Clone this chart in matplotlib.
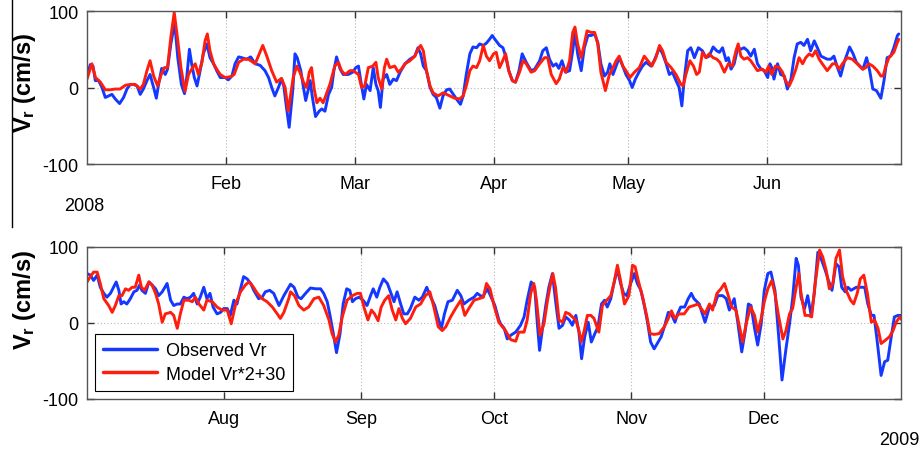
import numpy as np
import matplotlib
matplotlib.use('Agg')
import matplotlib.pyplot as plt
import matplotlib.dates as mdates
from matplotlib.lines import Line2D
import datetime as dt

plt.rcParams['font.family'] = ['Liberation Sans', 'DejaVu Sans']
plt.rcParams['mathtext.fontset'] = 'custom'
plt.rcParams['mathtext.rm'] = 'Liberation Sans'
plt.rcParams['mathtext.bf'] = 'Liberation Sans:bold'
plt.rcParams['axes.unicode_minus'] = False

# ---- data: (day offset from panel start, Vr cm/s) ----
top_start = dt.datetime(2008, 1, 1)
top_end = dt.datetime(2008, 7, 1)
bot_start = dt.datetime(2008, 7, 1)
bot_end = dt.datetime(2009, 1, 1)

top_obs = [(0.0,15),(0.74,30),(1.34,28),(1.86,9),(2.6,9),(3.35,0),(4.09,-13),(4.84,-11),(5.58,-9),(6.32,-15),
 (7.29,-21),(8.18,-13),(8.93,-2),(9.67,4),(10.4,4),(11.2,2),(11.9,-9),(12.6,-2),(13.4,9),(14.1,17),(14.9,0),
 (15.5,-14),(16.0,4),(16.7,25),(17.5,17),(18.0,24),(18.75,57),(19.6,85),(20.3,39),(21.1,4),(21.8,-8),(22.3,13),
 (22.9,50),(23.4,31),(24.0,13),(24.6,2),(25.3,22),(26.0,44),(26.8,57),(27.5,39),(28.3,31),(29.0,22),(29.8,13),
 (30.9,13),(31.6,10),(32.4,15),(33.1,31),(33.9,40),(34.6,39),(35.7,37),(36.6,40),(37.6,31),(38.7,29),(39.8,22),
 (40.6,13),(41.3,0),(42.0,-11),(42.8,0),(43.5,11),(44.0,2),(44.6,-26),(45.2,-52),(46.0,-4),(46.5,44),(47.0,39),
 (47.8,22),(48.4,0),(48.9,-17),(49.5,-2),(49.9,9),(50.4,-13),(51.1,-38),(51.9,-31),(52.5,-28),(53.2,-31),
 (54.0,-9),(54.7,0),(55.2,22),(55.8,40),(56.6,24),(57.3,17),(58.4,17),(59.4,20),(60.1,26),(60.7,28),(61.2,9),
 (61.9,-15),(62.5,4),(63.3,-4),(64.0,26),(64.6,4),(65.1,-4),(65.6,-26),(66.2,11),(67.0,17),(67.7,4),(68.5,11),
 (69.2,9),(70.0,20),(71.1,31),(72.2,37),(73.3,41),(74.0,52),(74.6,44),(75.2,28),(75.9,22),(76.7,0),(77.4,-9),
 (78.1,-13),(78.9,-27),(79.6,-11),(80.4,-3),(81.1,-2),(81.9,-9),(82.6,-15),(83.5,-22),(84.1,-11),(84.8,17),
 (85.6,44),(86.3,53),(87.1,52),(87.8,57),(88.6,55),(89.3,58),(90.0,63),(90.6,68),(91.2,63),(92.25,55),(93.0,52),
 (93.6,41),(94.3,22),(95.1,9),(95.8,7),(96.6,22),(97.3,44),(98.2,33),(99.3,22),(100.1,24),(101.2,35),(101.9,48),
 (102.7,52),(103.4,37),(104.2,28),(104.9,31),(105.5,25),(106.2,35),(107.0,20),(107.9,22),(108.6,48),(109.1,72),
 (109.7,44),(110.5,22),(111.2,52),(112.0,68),(112.7,68),(113.5,70),(114.2,59),(114.9,31),(115.7,15),(116.4,20),
 (116.9,31),(117.6,17),(118.3,28),(119.0,39),(119.8,28),(120.5,17),(121.3,9),(121.9,0),(122.6,11),(123.4,20),
 (124.2,28),(125.0,33),(126.1,28),(126.8,35),(128.0,52),(128.7,44),(129.5,31),(130.2,17),(130.9,20),(131.7,9),
 (132.4,0),(133.0,-24),(133.5,9),(134.3,48),(135.0,52),(135.8,39),(136.7,52),(137.6,48),(138.4,39),(139.1,41),
 (140.0,53),(140.8,48),(141.4,46),(142.1,52),(142.9,35),(143.4,39),(144.0,24),(144.7,31),(145.5,52),(146.2,50),
 (146.9,52),(147.7,48),(148.4,41),(149.2,50),(149.9,31),(150.7,24),(151.4,22),(152.2,13),(152.7,31),(153.1,26),
 (153.6,11),(154.4,31),(155.1,17),(155.9,15),(156.6,-2),(157.4,11),(158.1,39),(158.8,57),(159.6,59),(160.3,55),
 (161.1,63),(161.8,48),(162.6,61),(163.3,52),(164.1,41),(164.8,39),(165.5,37),(166.3,37),(167.0,41),(167.8,26),
 (168.5,15),(169.3,33),(170.5,53),(171.3,44),(172.0,33),(172.8,28),(173.5,24),(174.3,39),(175.0,22),(175.7,-2),
 (176.5,-4),(177.5,-14),(178.2,9),(178.9,39),(179.7,41),(180.4,52),(181.2,68),(181.5,70)]

top_mod = [(0.0,11),(1.1,31),(1.9,13),(3.0,7),(4.1,-3),(5.2,-3),(6.3,-2),(7.4,-2),(8.6,3),(9.7,4),(10.8,4),
 (11.9,-2),(12.6,4),(13.4,22),(14.1,35),(14.9,15),(15.8,2),(16.6,17),(17.3,26),(18.0,26),(18.75,66),(19.5,98),
 (20.2,66),(21.0,26),(21.9,-5),(22.7,17),(23.4,24),(24.2,31),(24.9,17),(25.7,33),(26.4,61),(26.9,70),(27.5,48),
 (28.3,31),(29.0,24),(29.8,17),(30.9,13),(32.0,14),(32.9,17),(33.9,33),(35.0,37),(36.1,37),(37.6,31),(38.3,41),
 (39.3,55),(40.2,41),(41.3,22),(42.4,7),(43.5,12),(44.3,0),(45.0,-31),(46.1,13),(46.9,28),(47.6,20),(48.4,7),
 (49.1,0),(49.7,20),(50.2,26),(50.8,-2),(51.4,-20),(52.1,-14),(52.8,-20),(53.6,-7),(54.3,4),(55.4,28),(56.2,33),
 (56.9,22),(57.7,17),(58.8,22),(59.5,22),(60.7,17),(61.4,0),(62.1,2),(62.9,26),(63.9,28),(64.6,33),(65.1,13),
 (65.9,-2),(66.5,26),(67.0,37),(67.7,26),(68.8,28),(69.6,20),(70.3,24),(71.1,31),(72.2,35),(73.3,41),(74.0,50),
 (74.6,55),(75.2,48),(75.9,22),(76.7,2),(77.4,-7),(78.5,-11),(79.6,-7),(80.4,-9),(81.1,-11),(82.2,-14),(83.3,-15),
 (84.1,-11),(84.8,2),(85.6,22),(86.3,28),(87.1,26),(87.8,35),(88.6,55),(89.3,41),(90.0,35),(90.9,44),(91.5,46),
 (92.25,26),(92.8,33),(93.6,44),(94.3,22),(95.1,9),(95.8,7),(96.7,20),(97.5,35),(98.2,31),(99.3,20),(100.1,22),
 (101.2,31),(102.3,39),(103.0,39),(103.8,17),(104.9,5),(105.6,11),(106.4,26),(107.1,20),(107.9,35),(108.6,72),
 (109.1,79),(109.7,57),(110.5,39),(111.2,57),(111.8,74),(112.7,72),(113.5,72),(114.2,57),(114.9,20),(115.9,-4),
 (116.8,17),(117.6,26),(118.3,35),(119.0,41),(119.8,28),(120.5,22),(121.4,13),(122.4,20),(123.5,26),(124.6,41),
 (125.4,35),(126.3,28),(127.2,39),(128.0,55),(128.7,48),(129.5,33),(130.6,26),(131.7,17),(132.8,4),(133.3,2),
 (133.9,17),(134.8,35),(135.6,28),(136.3,17),(136.9,20),(137.6,46),(138.4,39),(139.1,44),(140.0,39),(140.8,37),
 (141.5,33),(142.5,20),(143.4,31),(144.3,28),(145.1,48),(145.6,57),(146.2,41),(146.9,37),(147.7,39),(148.4,35),
 (149.2,28),(149.9,22),(151.0,24),(151.8,20),(152.4,28),(153.1,17),(153.9,28),(154.8,26),(155.5,20),(156.2,9),
 (157.0,2),(157.7,11),(158.5,24),(159.2,39),(160.0,31),(160.7,39),(161.5,44),(162.2,41),(162.9,48),(163.7,37),
 (164.4,31),(165.5,22),(166.7,31),(167.4,31),(168.2,24),(168.9,31),(170.0,39),(171.1,37),(172.2,31),(173.4,24),
 (174.1,26),(174.8,31),(175.7,28),(176.7,22),(177.5,15),(178.0,15),(178.6,28),(179.3,39),(180.4,46),(181.2,59),
 (181.5,63)]

bot_obs = [(0.0,65),(0.75,63),(1.5,56),(2.3,63),(3.0,47),(3.8,39),(4.5,34),(5.3,39),(6.0,47),(6.6,54),(7.2,43),
 (7.7,25),(8.3,28),(9.0,25),(9.8,32),(10.6,41),(11.3,43),(11.9,50),(12.4,43),(13.2,39),(14.0,54),(14.7,50),
 (15.5,45),(16.2,36),(17.0,41),(18.1,52),(18.9,30),(19.6,23),(20.4,25),(21.1,25),(21.9,34),(22.6,32),(23.4,34),
 (24.1,39),(24.9,25),(25.6,34),(26.4,47),(27.1,32),(27.8,39),(28.5,21),(29.4,12),(30.2,14),(30.9,19),(31.7,19),
 (32.4,10),(33.2,30),(33.9,25),(34.7,45),(35.4,61),(36.2,58),(37.0,52),(37.7,43),(38.8,32),(39.6,34),(40.3,41),
 (41.3,43),(42.2,39),(43.4,23),(44.5,36),(46.0,51),(46.8,47),(47.7,34),(48.4,32),(49.4,39),(50.5,46),(51.7,45),
 (52.8,45),(53.5,39),(54.3,28),(55.0,8),(55.8,-18),(56.4,-39),(57.2,-14),(57.9,25),(58.7,45),(59.4,43),(60.0,28),
 (60.7,32),(61.5,34),(62.4,30),(63.3,23),(64.1,36),(64.7,45),(65.5,34),(66.2,47),(67.0,58),(67.9,52),(68.6,41),
 (69.4,28),(70.1,41),(70.9,25),(71.6,12),(72.4,12),(73.1,19),(74.1,34),(75.0,30),(75.8,34),(76.8,47),(77.7,34),
 (78.6,23),(79.3,8),(80.1,-7),(80.8,12),(81.6,28),(82.6,30),(83.7,43),(84.5,36),(85.2,25),(86.3,30),(87.5,34),
 (88.2,39),(89.4,34),(90.5,45),(91.2,36),(92.2,23),(93.1,4),(93.5,-1),(94.3,-7),(95.0,-21),(95.8,-16),(96.9,-12),
 (98.0,-3),(98.8,8),(99.5,30),(100.4,54),(101.2,47),(101.8,-1),(102.3,-36),(102.9,-10),(103.7,23),(104.4,47),
 (105.2,65),(105.9,30),(106.7,-7),(107.5,-3),(108.2,8),(109.0,4),(109.7,-3),(110.5,10),(111.2,-12),(111.8,-47),
 (112.5,-18),(113.3,1),(114.0,-25),(114.8,-14),(115.5,-5),(116.3,25),(117.0,30),(117.6,21),(118.4,32),(119.1,52),
 (119.9,71),(120.6,52),(121.3,39),(122.0,36),(122.9,52),(123.7,65),(124.4,52),(125.2,43),(125.9,25),(126.7,1),
 (127.4,-25),(128.2,-34),(128.9,-27),(129.8,-18),(130.6,-3),(131.4,14),(132.1,12),(132.9,1),(133.5,12),(134.2,21),
 (135.1,21),(135.9,32),(136.6,39),(137.2,32),(138.4,25),(139.7,1),(140.7,21),(141.8,23),(142.6,36),(143.7,36),
 (144.5,32),(145.2,17),(146.3,32),(147.1,1),(148.0,-38),(148.8,-10),(149.5,25),(150.1,23),(150.9,-7),(151.6,-29),
 (152.4,-1),(153.1,43),(153.9,65),(154.6,67),(155.5,43),(156.3,-14),(157.1,-75),(158.0,-34),(158.8,-1),(159.5,32),
 (160.3,85),(160.8,76),(161.4,34),(162.2,19),(162.9,36),(163.7,10),(164.4,39),(165.2,93),(166.1,82),(166.9,69),
 (167.6,56),(168.4,43),(169.3,78),(170.0,74),(170.6,47),(171.4,41),(172.0,47),(172.7,43),(173.9,47),(175.0,47),
 (175.8,47),(176.5,25),(177.3,10),(177.9,10),(178.6,-23),(179.5,-69),(180.3,-51),(181.0,-49),(181.8,-18),
 (182.5,8),(183.3,10),(184.0,10)]

bot_mod = [(0.0,54),(0.75,61),(1.5,67),(2.3,67),(3.0,52),(3.8,32),(4.9,23),(5.7,14),(6.4,23),(7.2,36),(7.9,36),
 (8.7,45),(9.4,43),(10.2,47),(10.9,47),(11.7,63),(12.3,47),(13.0,43),(14.0,54),(14.7,50),(15.5,39),(16.2,25),
 (17.0,1),(17.7,12),(18.9,14),(19.6,10),(20.4,-7),(21.1,12),(21.9,30),(23.0,30),(23.8,28),(24.5,34),(25.3,25),
 (26.4,17),(27.1,30),(28.3,28),(29.4,21),(30.5,17),(31.7,17),(32.6,-1),(33.6,25),(34.7,41),(35.8,50),(36.6,54),
 (37.3,50),(38.5,39),(39.6,32),(40.7,28),(41.9,21),(43.0,12),(43.7,6),(44.5,14),(45.6,32),(46.0,41),(46.9,36),
 (47.9,23),(49.0,17),(50.1,21),(51.3,32),(52.4,34),(53.5,23),(54.7,4),(55.4,-14),(56.2,-25),(56.9,-16),(57.7,8),
 (58.8,30),(60.0,36),(61.1,39),(61.8,39),(62.7,19),(63.5,4),(64.3,17),(65.0,12),(65.8,3),(66.5,21),(67.3,30),
 (68.2,36),(69.0,17),(69.8,4),(70.5,19),(71.3,6),(72.0,-1),(73.1,6),(74.3,21),(75.4,25),(76.5,36),(77.5,41),
 (78.4,21),(79.4,-5),(80.3,-10),(81.1,-5),(82.2,8),(83.3,19),(84.5,30),(85.4,10),(86.3,19),(87.5,30),(88.6,32),
 (89.6,34),(90.3,52),(91.1,45),(92.0,23),(93.1,1),(94.6,-10),(95.8,-22),(96.9,-24),(97.6,-12),(98.8,-12),(99.5,4),
 (100.3,39),(101.0,52),(101.6,30),(102.4,-16),(103.3,-1),(104.1,30),(104.8,52),(105.3,65),(105.9,47),(106.7,4),
 (107.5,1),(108.2,14),(109.0,12),(109.7,8),(110.5,4),(111.2,-10),(111.7,-25),(112.4,-10),(113.1,10),(113.9,10),
 (114.6,6),(115.7,-12),(116.5,23),(117.5,30),(118.4,36),(119.1,52),(119.9,76),(120.6,56),(121.5,25),(122.5,36),
 (123.3,76),(123.9,74),(124.6,56),(125.6,34),(126.5,10),(127.3,-14),(128.2,-15),(129.3,-14),(130.5,-5),(131.4,6),
 (132.1,16),(132.9,6),(133.8,12),(135.0,12),(136.1,21),(137.2,23),(138.1,25),(139.7,12),(140.7,25),(141.4,17),
 (142.4,39),(143.3,45),(144.1,52),(144.8,39),(145.7,21),(146.7,17),(147.5,-5),(148.2,-25),(149.0,-1),(150.0,21),
 (150.9,10),(151.6,-12),(152.4,6),(153.1,28),(153.9,45),(154.8,56),(155.5,39),(156.3,10),(157.3,-21),(158.0,-10),
 (158.8,12),(159.5,19),(160.3,47),(160.9,65),(161.4,39),(162.3,10),(163.1,10),(163.8,8),(164.6,52),(165.6,96),
 (166.3,87),(167.1,69),(167.8,45),(168.6,52),(169.3,85),(170.1,96),(170.8,61),(171.6,43),(172.6,30),(173.3,25),
 (174.1,39),(174.8,58),(175.6,63),(176.4,39),(177.3,1),(178.0,4),(178.8,-7),(179.5,-27),(180.4,-23),(181.4,-18),
 (182.2,-10),(182.9,1),(183.7,8),(184.2,4)]

top_months = ['Feb', 'Mar', 'Apr', 'May', 'Jun']
top_month_dates = [dt.datetime(2008, m, 1) for m in range(2, 7)]
bot_months = ['Aug', 'Sep', 'Oct', 'Nov', 'Dec']
bot_month_dates = [dt.datetime(2008, m, 1) for m in range(8, 13)]
yticks = [-100, 0, 100]
legend_labels = ['Observed Vr', 'Model Vr*2+30']
ylabel = r'$\mathbf{V_r}$ (cm/s)'

BLUE = '#1438ff'
RED = '#ff1e0e'

W, H = 922, 456
fig = plt.figure(figsize=(W / 100, H / 100), dpi=100)
ax1 = fig.add_axes([87 / W, 1 - 165 / H, 814 / W, 153 / H])
ax2 = fig.add_axes([87 / W, 1 - 400 / H, 814 / W, 152 / H])


def xy(pairs, start):
    arr = np.array(pairs, dtype=float)
    return mdates.date2num(start) + arr[:, 0], arr[:, 1]


def style(ax, start, end, mdates_list, mlabels):
    ax.set_xlim(mdates.date2num(start), mdates.date2num(end))
    ax.set_ylim(-100, 100)
    ax.set_yticks(yticks)
    ax.set_xticks(mdates.date2num(mdates_list))
    ax.set_xticklabels(mlabels)
    ax.grid(True, linestyle=(0, (1, 2)), color='#b8b8b8', linewidth=0.8)
    ax.tick_params(direction='in', length=5, width=1, top=True, right=True,
                   labelsize=13, color='#333333')
    ax.tick_params(axis='x', pad=8)
    ax.tick_params(axis='y', pad=6)
    for s in ax.spines.values():
        s.set_color('#555555')
        s.set_linewidth(1.0)


lw = 2.1
kw = dict(lw=lw, solid_joinstyle='round', solid_capstyle='round')
x, y = xy(top_obs, top_start)
ax1.plot(x, y, color=BLUE, **kw)
x, y = xy(top_mod, top_start)
ax1.plot(x, y, color=RED, **kw)
style(ax1, top_start, top_end, top_month_dates, top_months)

x, y = xy(bot_obs, bot_start)
ax2.plot(x, y, color=BLUE, label=legend_labels[0], **kw)
x, y = xy(bot_mod, bot_start)
ax2.plot(x, y, color=RED, label=legend_labels[1], **kw)
style(ax2, bot_start, bot_end, bot_month_dates, bot_months)

leg = ax2.legend(loc='lower left', fontsize=13, frameon=True, fancybox=False,
                 edgecolor='black', framealpha=1, handlelength=3.0,
                 borderpad=0.45, labelspacing=0.35, handletextpad=0.45,
                 borderaxespad=0, bbox_to_anchor=(0.010, 0.053))
leg.get_frame().set_linewidth(0.8)
for ln in leg.get_lines():
    ln.set_linewidth(2.5)

fig.text(24 / W, 1 - 83 / H, ylabel, rotation=90, ha='center', va='center',
         fontsize=17, fontweight='bold')
fig.text(24 / W, 1 - 300 / H, ylabel, rotation=90, ha='center', va='center',
         fontsize=17, fontweight='bold')
fig.text(84 / W, 1 - 207 / H, '2008', ha='center', va='center', fontsize=13)
fig.text(899 / W, 1 - 441 / H, '2009', ha='center', va='center', fontsize=13)
fig.add_artist(Line2D([11.5 / W, 11.5 / W], [1, 1 - 228 / H], color='black', lw=1.0))

fig.savefig('out.png', dpi=100)
